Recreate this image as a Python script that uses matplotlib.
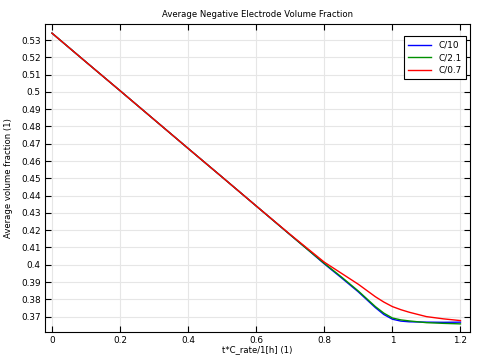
import matplotlib
matplotlib.use("Agg")
import matplotlib.pyplot as plt

x = [0.0, 0.1, 0.2, 0.3, 0.4, 0.5, 0.6, 0.7, 0.75, 0.8, 0.85, 0.9, 0.95, 0.975, 1.0, 1.025, 1.05, 1.1, 1.15, 1.2]
y_c10 = [0.534, 0.5173, 0.5007, 0.484, 0.4673, 0.4507, 0.434, 0.4173, 0.409, 0.4005, 0.3925, 0.3843, 0.3752, 0.3712, 0.3685, 0.3674, 0.3670, 0.3668, 0.3667, 0.3668]
y_c21 = [0.534, 0.5173, 0.5007, 0.484, 0.4673, 0.4507, 0.434, 0.4173, 0.409, 0.4008, 0.3930, 0.3848, 0.3758, 0.3720, 0.3692, 0.3681, 0.3675, 0.3665, 0.3661, 0.3658]
y_c07 = [0.534, 0.5173, 0.5007, 0.484, 0.4673, 0.4507, 0.434, 0.4175, 0.4095, 0.4015, 0.3951, 0.3887, 0.3815, 0.3784, 0.3758, 0.3740, 0.3725, 0.3700, 0.3687, 0.3677]
labels = ["C/10", "C/2.1", "C/0.7"]
colors = ["#0000ff", "#009000", "#ff0000"]

xticks = [0, 0.2, 0.4, 0.6, 0.8, 1, 1.2]
xticklabels = ["0", "0.2", "0.4", "0.6", "0.8", "1", "1.2"]
yticks = [0.37 + 0.01 * i for i in range(17)]
yticklabels = ["%g" % round(v, 2) for v in yticks]

fig = plt.figure(figsize=(4.83, 3.63), dpi=100)
ax = fig.add_axes([45 / 483, 1 - 332 / 363, (469.5 - 45) / 483, (332 - 24) / 363])

for ys, lab, c in zip([y_c10, y_c21, y_c07], labels, colors):
    ax.plot(x, ys, color=c, lw=1.0, label=lab)

ax.set_xlim(-0.0205, 1.2265)
ax.set_ylim(0.3611, 0.5393)
ax.set_xticks(xticks)
ax.set_xticklabels(xticklabels)
ax.set_yticks(yticks)
ax.set_yticklabels(yticklabels)
ax.tick_params(direction="in", top=True, right=True, labelsize=6.4, length=4, width=0.8, pad=3)
ax.grid(True, color="#e6e6e6", lw=0.8)
ax.set_axisbelow(True)
for s in ax.spines.values():
    s.set_linewidth(0.8)

ax.set_title("Average Negative Electrode Volume Fraction", fontsize=6.1, pad=5)
ax.set_xlabel("t*C_rate/1[h] (1)", fontsize=6.1, labelpad=0)
ax.set_ylabel("Average volume fraction (1)", fontsize=6.1, labelpad=6)

leg = ax.legend(loc="upper right", fontsize=6.4, fancybox=False, framealpha=1,
                edgecolor="black", borderaxespad=0,
                bbox_to_anchor=(466 / 483, 1 - 36.3 / 363), bbox_transform=fig.transFigure,
                handlelength=2.6, labelspacing=0.4, borderpad=0.5)
leg.get_frame().set_linewidth(0.8)

fig.savefig("out.png", dpi=100)
